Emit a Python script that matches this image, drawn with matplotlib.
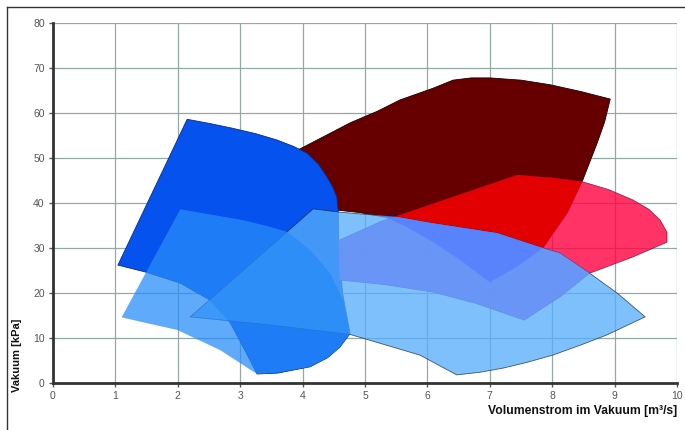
import matplotlib
matplotlib.use("Agg")
import matplotlib.pyplot as plt
from matplotlib.patches import Polygon
from matplotlib.lines import Line2D

plt.rcParams['font.family'] = ['Liberation Sans', 'DejaVu Sans']

# operating ranges, outline points as (Volumenstrom [m3/s], Vakuum [kPa])
range_dark_red = [(3.9, 51.6), (4.4, 55.2), (4.76, 57.8), (5.2, 60.4), (5.56, 62.9),
                  (6.09, 65.5), (6.41, 67.3), (6.7, 67.8), (7.0, 67.8), (7.5, 67.3),
                  (7.96, 66.3), (8.45, 64.8), (8.93, 63.1), (8.84, 58.0), (8.72, 53.3),
                  (8.49, 45.1), (8.24, 37.8), (7.85, 30.0), (7.45, 26.0), (7.0, 22.4),
                  (6.5, 27.6), (6.04, 31.8), (5.61, 35.1), (5.35, 36.8), (4.9, 37.9),
                  (4.5, 38.5), (4.2, 44.0)]
range_red = [(4.57, 31.6), (5.24, 35.8), (7.44, 46.2), (8.0, 45.6), (8.49, 44.7),
             (8.9, 43.0), (9.29, 40.7), (9.55, 38.6), (9.73, 36.2), (9.84, 33.5),
             (9.84, 31.3), (9.29, 28.0), (8.6, 24.4), (8.12, 19.1), (7.55, 14.0),
             (6.8, 17.6), (6.1, 20.2), (5.3, 21.9), (4.59, 22.9)]
range_dark_blue = [(1.04, 26.2), (2.15, 58.6), (2.5, 57.7), (2.88, 56.6), (3.25, 55.4),
                   (3.59, 54.0), (3.85, 52.6), (4.07, 51.1), (4.25, 48.7), (4.39, 45.8),
                   (4.48, 43.6), (4.55, 41.3), (4.57, 38.2), (4.58, 30.0), (4.64, 20.0),
                   (4.76, 11.0), (4.6, 8.0), (4.4, 5.6), (4.12, 3.6), (3.6, 2.2),
                   (3.27, 2.0), (3.04, 8.2), (2.84, 13.4), (2.52, 18.4), (2.04, 22.2),
                   (1.5, 24.6)]
range_light_big = [(2.2, 14.7), (4.17, 38.7), (4.57, 38.0), (5.51, 36.9), (6.04, 35.6),
                   (7.12, 33.3), (7.8, 30.2), (8.12, 28.9), (8.6, 24.4), (9.04, 20.0),
                   (9.49, 14.7), (9.2, 12.8), (8.88, 10.7), (8.45, 8.4), (8.01, 6.2),
                   (7.6, 4.6), (7.21, 3.3), (6.85, 2.4), (6.47, 1.8), (5.88, 6.2),
                   (4.76, 10.8), (3.48, 12.9)]
range_light_small = [(1.1, 14.6), (2.04, 38.6), (3.04, 36.2), (3.45, 34.8), (3.75, 33.6),
                     (4.12, 29.6), (4.44, 24.4), (4.65, 18.4), (4.76, 11.0), (4.6, 8.0),
                     (4.4, 5.6), (4.12, 3.6), (3.6, 2.3), (3.27, 2.0), (2.68, 7.3),
                     (1.99, 11.8), (1.44, 13.5)]

x_ticks = list(range(0, 11))
y_ticks = list(range(0, 81, 10))

fig = plt.figure(figsize=(6.85, 4.3), dpi=100)
ax = fig.add_axes([53 / 685, 1 - 383 / 430, 624 / 685, 360 / 430])

ax.set_xlim(0, 10)
ax.set_ylim(0, 80)
ax.set_xticks(x_ticks)
ax.set_yticks(y_ticks)
ax.grid(True, color='#93aaa5', linewidth=0.9)
ax.set_axisbelow(True)

for side in ['top', 'right']:
    ax.spines[side].set_visible(False)
for side in ['left', 'bottom']:
    ax.spines[side].set_color('#333333')
    ax.spines[side].set_linewidth(2)
ax.tick_params(direction='out', length=3, width=1, color='#555555',
               labelcolor='#555555', labelsize=7.5, pad=3)


def add_range(points, face, alpha=1.0, edge='none', z=1):
    patch = Polygon(points, closed=True, facecolor=face, edgecolor=edge,
                    linewidth=0.6, alpha=alpha, zorder=z, joinstyle='round')
    ax.add_patch(patch)
    return patch


dark_red = add_range(range_dark_red, '#660000', edge='#1a0000', z=2)
add_range(range_red, '#ff0040', alpha=0.8, edge='#7a1030', z=3)
# red over dark red shows as pure red
over = add_range(range_red, '#e20000', z=3.5)
over.set_clip_path(dark_red)
add_range(range_dark_blue, '#0552ee', edge='#0a2a80', z=4)
big = add_range(range_light_big, '#56adfb', alpha=0.77, edge='#1a2c48', z=5)

# red ranges seen through the big light range
for pts, col, z in [(range_red, '#6497ff', 6), (range_dark_red, '#557fff', 7)]:
    p = add_range(pts, col, alpha=0.8, z=z)
    p.set_clip_path(big)

add_range(range_light_small, '#278cf9', alpha=0.74, z=8)

fig.text(677 / 685, 1 - 411 / 430, 'Volumenstrom im Vakuum [m³/s]',
         ha='right', va='center', fontweight='bold', fontsize=8.7, color='#111111')
fig.text(17 / 685, 1 - 392 / 430, 'Vakuum [kPa]', rotation=90,
         ha='center', va='bottom', fontweight='bold', fontsize=8, color='#111111')

# frame lines of the scanned page
fig.add_artist(Line2D([6.5 / 685, 6.5 / 685], [0, 1 - 6.5 / 430], color='#333333', lw=1))
fig.add_artist(Line2D([6.5 / 685, 1], [1 - 6.5 / 430, 1 - 6.5 / 430], color='#333333', lw=1))

fig.savefig('out.png', dpi=100)
